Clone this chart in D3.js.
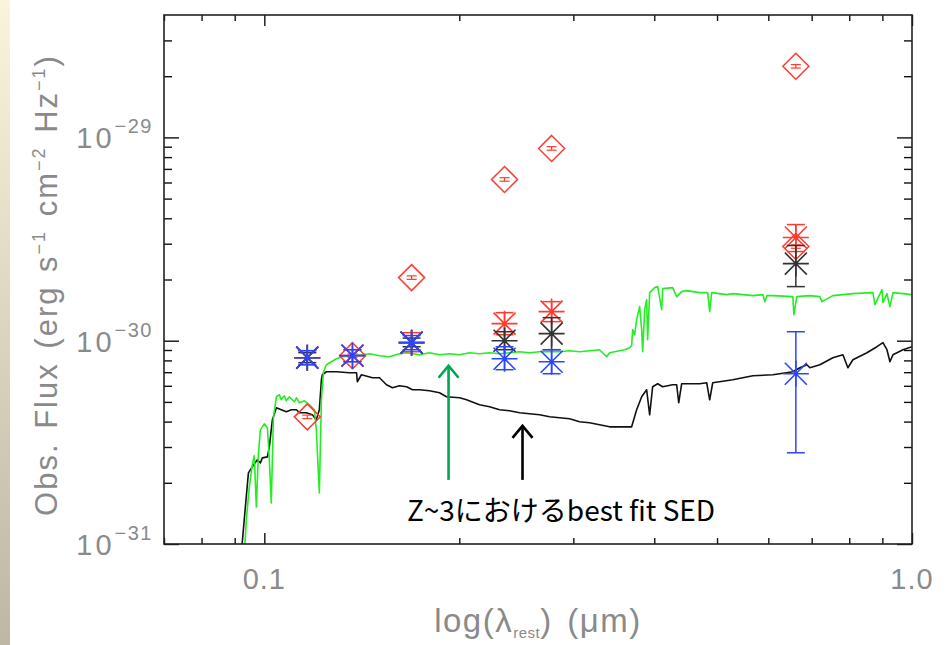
<!DOCTYPE html>
<html><head><meta charset="utf-8">
<script src="https://cdn.jsdelivr.net/npm/d3@7"></script>
<style>body{margin:0;background:#fff;overflow:hidden}</style>
</head><body>
<svg id="c" width="950" height="645"></svg>
<script>
// flux values are in units of 1e-31 erg s^-1 cm^-2 Hz^-1, wavelengths in micron
const UNIT = 1e-31;
const xTickMajor = [0.1, 1.0];
const xTickLabels = ["0.1", "1.0"];
const xTickMinor = [0.07, 0.08, 0.09, 0.2, 0.3, 0.4, 0.5, 0.6, 0.7, 0.8, 0.9];
const yTickMajor = [1e-31, 1e-30, 1e-29];
const yTickExp = ["−31", "−30", "−29"];
const yTickMinor = [2e-31,3e-31,4e-31,5e-31,6e-31,7e-31,8e-31,9e-31,2e-30,3e-30,4e-30,5e-30,6e-30,7e-30,8e-30,9e-30,2e-29,3e-29];

const greenLam = [0.0931,0.0938,0.0948,0.0958,0.0965,0.0972,0.0979,0.0986,0.1000,0.1011,0.1018,0.1025,0.1033,0.1044,0.1055,0.1062,0.1074,0.1081,0.1093,0.1113,0.1121,0.1133,0.1153,0.1174,0.1195,0.1203,0.1216,0.1225,0.1234,0.1247,0.1269,0.1292,0.1320,0.1368,0.1417,0.1453,0.1506,0.1560,0.1617,0.1658,0.1736,0.1799,0.1864,0.1932,0.2002,0.2074,0.2149,0.2227,0.2308,0.2391,0.2478,0.2568,0.2661,0.2757,0.2857,0.2960,0.3067,0.3178,0.3293,0.3376,0.3413,0.3536,0.3600,0.3665,0.3691,0.3704,0.3731,0.3757,0.3797,0.3825,0.3838,0.3866,0.3893,0.3907,0.3935,0.4006,0.4049,0.4107,0.4121,0.4270,0.4332,0.4409,0.4489,0.4701,0.4837,0.4871,0.4906,0.5177,0.5289,0.5679,0.5885,0.5927,0.5969,0.6098,0.6547,0.6570,0.6641,0.6955,0.7207,0.7259,0.7548,0.8105,0.8703,0.8766,0.8987,0.9019,0.9148,0.9246,0.9345,0.9684,1.0];
const greenFlux = [0.883,1.313,1.909,2.450,2.713,1.522,2.745,3.644,3.901,3.728,2.593,1.592,4.223,5.299,5.420,5.121,5.359,5.064,5.299,5.006,5.241,4.950,5.064,4.839,4.572,3.644,1.784,5.121,7.036,7.617,7.880,8.153,8.340,8.436,8.532,8.629,8.436,8.340,8.629,8.728,8.532,8.728,8.532,8.629,8.532,8.728,8.629,8.728,8.629,8.728,8.827,8.728,8.827,8.827,8.827,8.928,8.827,8.928,9.030,8.340,8.728,8.928,9.030,9.237,9.449,11.33,10.71,12.69,14.71,11.33,8.827,14.21,15.92,10.11,17.24,18.24,18.45,14.21,18.04,18.24,16.47,17.43,17.63,17.24,17.24,13.90,17.24,16.85,17.04,16.66,16.85,15.56,16.66,16.66,16.47,13.43,16.47,16.66,16.47,15.56,16.66,17.04,17.24,15.04,17.83,15.39,17.04,14.71,17.24,17.04,16.85];

const blackLam = [0.0921,0.0931,0.0945,0.0958,0.0975,0.0986,0.0993,0.1011,0.1018,0.1029,0.1044,0.1062,0.1081,0.1101,0.1121,0.1133,0.1161,0.1186,0.1203,0.1216,0.1225,0.1229,0.1247,0.1292,0.1353,0.1388,0.1392,0.1412,0.1469,0.1506,0.1544,0.1577,0.1617,0.1658,0.1694,0.1736,0.1799,0.1864,0.1911,0.2002,0.2052,0.2149,0.2227,0.2308,0.2391,0.2478,0.2568,0.2661,0.2757,0.2857,0.2960,0.3067,0.3178,0.3293,0.3413,0.3536,0.3691,0.3757,0.3825,0.3893,0.3935,0.3977,0.4049,0.4121,0.4270,0.4332,0.4363,0.4409,0.4701,0.4820,0.4871,0.4924,0.5289,0.5679,0.6098,0.6547,0.6712,0.6881,0.6955,0.7207,0.7548,0.7822,0.7962,0.8105,0.8520,0.8828,0.9019,0.9148,0.9246,0.9345,0.9684,1.0];
const blackFlux = [0.883,1.313,2.237,2.395,2.593,2.506,2.652,2.683,3.005,4.082,4.677,4.572,4.470,4.572,4.572,4.419,4.419,4.320,4.082,4.572,6.425,6.800,7.036,7.036,6.956,6.956,6.281,6.800,6.573,6.573,6.071,5.868,6.002,5.935,5.736,5.736,5.672,5.544,5.299,5.241,5.121,4.839,4.730,4.572,4.521,4.419,4.369,4.320,4.223,4.176,4.128,3.991,3.945,3.857,3.770,3.770,3.770,4.572,5.299,5.736,4.320,5.935,6.140,5.935,6.071,6.071,4.950,6.140,6.140,6.210,5.121,6.210,6.425,6.724,6.800,7.036,7.362,7.617,7.362,7.617,8.246,8.532,7.362,8.061,8.728,9.342,9.776,9.030,7.880,8.532,9.030,9.342];

// photometric bands
const bandLam = [0.1165, 0.1368, 0.1688, 0.2349, 0.2777, 0.6617];
const diamondFlux = [4.22, 8.44, 20.43, 62.11, 88.27, 223.7];
const diamond2Flux = [null, null, null, null, null, 29.05];
const redFlux = [8.25, 8.44, 9.78, 12.13, 13.90, 32.17];
const redLo   = [7.62, 7.88, 8.83, 10.70, 12.41, 27.45];
const redHi   = [8.93, 9.03, 10.95, 13.74, 15.56, 37.26];
const blackPtFlux = [8.25, null, 9.78, 10.00, 10.83, 23.95];
const blackPtLo   = [7.80, null, 9.34, 9.03, 9.03, 18.45];
const blackPtHi   = [8.73, null, 10.30, 11.07, 12.98, 29.38];
const blueFlux = [8.25, 8.44, 9.78, 8.15, 7.88, 6.88];
const blueLo   = [7.62, 7.88, 9.03, 7.20, 6.88, 2.81];
const blueHi   = [8.93, 9.03, 10.60, 9.34, 9.03, 11.07];

// arrows
const arrowLam = [0.1925, 0.2504];
const arrowFrom = [2.067, 2.067];
const arrowTo = [7.617, 3.857];
const arrowColor = ["#00a651", "#000000"];
const annotation = "Z~3におけるbest fit SED";

const svg = d3.select("#c");
const L = 164, R = 912, T = 15, B = 544;

// slide strip at left
const defs = svg.append("defs");
const lg = defs.append("linearGradient").attr("id","strip").attr("x1",0).attr("y1",0).attr("x2",0).attr("y2",1);
lg.append("stop").attr("offset","0%").attr("stop-color","#fbf4dd");
lg.append("stop").attr("offset","100%").attr("stop-color","#bdb7a3");
svg.append("rect").attr("x",0).attr("y",0).attr("width",10).attr("height",645).attr("fill","url(#strip)");

defs.append("clipPath").attr("id","clip").append("rect").attr("x",L).attr("y",T).attr("width",R-L).attr("height",B-T);

const x = d3.scaleLog().domain([0.07, 1.0]).range([L, R]);
const y = d3.scaleLog().domain([1e-31, 4e-29]).range([B, T]);

// spectra
const line = d3.line().x(d => x(d[0])).y(d => y(d[1] * UNIT));
const g = svg.append("g").attr("clip-path","url(#clip)");
g.append("path").datum(d3.zip(blackLam, blackFlux)).attr("d", line)
  .attr("fill","none").attr("stroke","#111").attr("stroke-width",1.6).attr("stroke-linejoin","round");
g.append("path").datum(d3.zip(greenLam, greenFlux)).attr("d", line)
  .attr("fill","none").attr("stroke","#22ee22").attr("stroke-width",1.6).attr("stroke-linejoin","round");

// markers
function errbar(color, lam, lo, hi, cap, sw) {
  const gg = g.append("g").attr("stroke", color).attr("stroke-width", sw).attr("fill","none");
  lam.forEach((l, i) => {
    if (lo[i] == null) return;
    const cx = x(l), y1 = y(lo[i]*UNIT), y2 = y(hi[i]*UNIT);
    gg.append("line").attr("x1",cx).attr("x2",cx).attr("y1",y1).attr("y2",y2);
    gg.append("line").attr("x1",cx-cap).attr("x2",cx+cap).attr("y1",y1).attr("y2",y1);
    gg.append("line").attr("x1",cx-cap).attr("x2",cx+cap).attr("y1",y2).attr("y2",y2);
  });
}
function asterisks(color, lam, flux) {
  const gg = g.append("g").attr("stroke", color).attr("stroke-width",1.6).attr("fill","none");
  lam.forEach((l, i) => {
    if (flux[i] == null) return;
    const cx = x(l), cy = y(flux[i]*UNIT);
    gg.append("path").attr("d",
      `M${cx-13},${cy}H${cx+13}M${cx},${cy-13}V${cy+13}M${cx-11},${cy-11}L${cx+11},${cy+11}M${cx-11},${cy+11}L${cx+11},${cy-11}`);
    gg.append("circle").attr("cx",cx).attr("cy",cy).attr("r",2).attr("fill",color).attr("stroke","none");
  });
}
function diamonds(color, lam, flux) {
  const gg = g.append("g").attr("stroke", color).attr("stroke-width",1.5).attr("fill","none");
  lam.forEach((l, i) => {
    if (flux[i] == null) return;
    const cx = x(l), cy = y(flux[i]*UNIT);
    gg.append("path").attr("d", `M${cx},${cy-13}L${cx+13},${cy}L${cx},${cy+13}L${cx-13},${cy}Z`);
  });
  errbar(color, lam, flux.map(f => f == null ? null : f/1.02), flux.map(f => f == null ? null : f*1.02), 5, 1.2);
}

const RED = "#ff3b30", BLUE = "#2a45ff", BLK = "#333";
diamonds(RED, bandLam, diamondFlux);
diamonds(RED, bandLam, diamond2Flux);
errbar(RED, bandLam, redLo, redHi, 9, 1.5);
asterisks(RED, bandLam, redFlux);
errbar(BLK, bandLam, blackPtLo, blackPtHi, 9, 1.5);
asterisks(BLK, bandLam, blackPtFlux);
errbar(BLUE, bandLam, blueLo, blueHi, 9, 1.5);
asterisks(BLUE, bandLam, blueFlux);

// arrows
arrowLam.forEach((l, i) => {
  const cx = x(l), y0 = y(arrowFrom[i]*UNIT), y1 = y(arrowTo[i]*UNIT);
  const ag = svg.append("g").attr("stroke", arrowColor[i]).attr("stroke-width", 2.6).attr("fill","none");
  ag.append("line").attr("x1",cx).attr("x2",cx).attr("y1",y0).attr("y2",y1+1);
  ag.append("path").attr("d", `M${cx-10},${y1+13}L${cx},${y1+1}L${cx+10},${y1+13}`).attr("stroke-linejoin","miter");
});

// axes
const axG = svg.append("g");
function drawAxis(gen, tr, vals, size) {
  const a = axG.append("g").attr("transform", tr)
    .call(gen.tickValues(vals).tickSize(size).tickSizeOuter(0).tickFormat(""));
  a.select(".domain").remove();
  a.selectAll(".tick line").attr("stroke","#111").attr("stroke-width",1.4);
}
drawAxis(d3.axisBottom(x), `translate(0,${B})`, xTickMajor, -11);
drawAxis(d3.axisBottom(x), `translate(0,${B})`, xTickMinor, -6);
drawAxis(d3.axisTop(x), `translate(0,${T})`, xTickMajor, -11);
drawAxis(d3.axisTop(x), `translate(0,${T})`, xTickMinor, -6);
drawAxis(d3.axisLeft(y), `translate(${L},0)`, yTickMajor, -15);
drawAxis(d3.axisLeft(y), `translate(${L},0)`, yTickMinor, -8);
drawAxis(d3.axisRight(y), `translate(${R},0)`, yTickMajor, -15);
drawAxis(d3.axisRight(y), `translate(${R},0)`, yTickMinor, -8);
axG.append("rect").attr("x",L).attr("y",T).attr("width",R-L).attr("height",B-T)
  .attr("fill","none").attr("stroke","#222").attr("stroke-width",1.6);

const LABEL = "#8a8a8a", FONT = "Liberation Sans, Arial, sans-serif";
xTickMajor.forEach((v, i) => {
  svg.append("text").attr("x", x(v)).attr("y", 589).attr("text-anchor","middle")
    .attr("font-family",FONT).attr("font-size",29).attr("letter-spacing",1).attr("fill",LABEL).text(xTickLabels[i]);
});
yTickMajor.forEach((v, i) => {
  const t = svg.append("text").attr("x", 153).attr("y", y(v) + 11).attr("text-anchor","end")
    .attr("font-family",FONT).attr("font-size",29).attr("fill",LABEL);
  t.append("tspan").attr("letter-spacing",3).text("10");
  t.append("tspan").attr("dy",-15).attr("font-size",20).attr("letter-spacing",1.5).text(yTickExp[i]);
});

// axis titles
const xt = svg.append("text").attr("x", 538).attr("y", 632).attr("text-anchor","middle")
  .attr("font-family",FONT).attr("font-size",33).attr("letter-spacing",1.5).attr("word-spacing",4).attr("fill",LABEL);
xt.append("tspan").text("log(λ");
xt.append("tspan").attr("font-size",15).attr("dy",6).attr("letter-spacing",0.5).text("rest");
xt.append("tspan").attr("dy",-6).text(")  (μm)");

const yt = svg.append("text").attr("transform","translate(57,285) rotate(-90)").attr("text-anchor","middle")
  .attr("font-family",FONT).attr("font-size",31).attr("letter-spacing",2).attr("word-spacing",3).attr("fill",LABEL);
yt.append("tspan").text("Obs. Flux (erg s");
yt.append("tspan").attr("dy",-12).attr("font-size",18).text("−1");
yt.append("tspan").attr("dy",12).text(" cm");
yt.append("tspan").attr("dy",-12).attr("font-size",18).text("−2");
yt.append("tspan").attr("dy",12).text(" Hz");
yt.append("tspan").attr("dy",-12).attr("font-size",18).text("−1");
yt.append("tspan").attr("dy",12).text(")");

svg.append("text").attr("x", 561).attr("y", 521).attr("text-anchor","middle")
  .attr("font-family","Noto Sans CJK JP, sans-serif").attr("font-size",28).attr("fill","#000")
  .text(annotation);
</script>
</body></html>
